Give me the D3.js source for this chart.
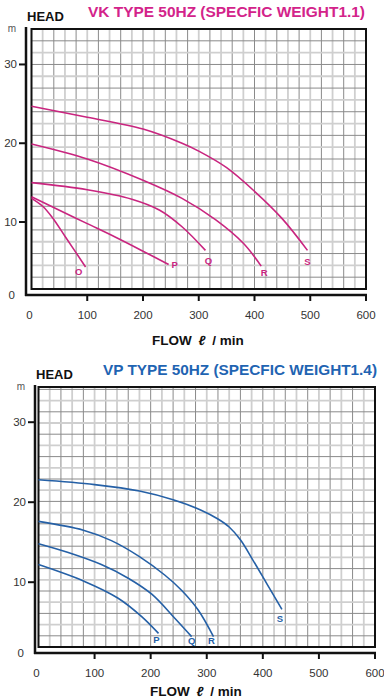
<!DOCTYPE html>
<html>
<head>
<meta charset="utf-8">
<script src="https://cdn.jsdelivr.net/npm/d3@7"></script>
<style>
  body { margin: 0; background: #fff; }
  svg { display: block; font-family: "Liberation Sans", Arial, sans-serif; }
</style>
</head>
<body>
<div id="chart"></div>
<script>
// ---- data (flow l/min, head m) ----
var flowTicks = [0, 100, 200, 300, 400, 500, 600];
var headTicks = [10, 20, 30];

var vkO = [[0, 13.0], [20, 12.0], [37, 10.6], [60, 8.2], [97, 4.3]];
var vkP = [[0, 13.2], [50, 11.5], [100, 9.8], [150, 8.1], [200, 6.3], [246, 4.6]];
var vkQ = [[0, 15.0], [100, 14.1], [180, 12.9], [230, 11.5], [270, 9.4], [312, 6.4]];
var vkR = [[0, 19.9], [100, 18.0], [200, 15.3], [270, 13.0], [330, 10.3], [380, 7.3], [412, 4.4]];
var vkS = [[0, 24.7], [100, 23.3], [200, 21.8], [270, 20.0], [300, 19.0], [350, 16.9], [400, 13.9], [450, 10.4], [495, 6.4]];

var vpP = [[0, 12.2], [82, 10.1], [142, 8.0], [184, 5.7], [214, 3.6]];
var vpQ = [[0, 14.8], [53, 13.7], [112, 12.2], [160, 10.5], [202, 8.5], [243, 5.5], [273, 3.2]];
var vpR = [[0, 17.6], [80, 16.5], [130, 15.2], [180, 13.2], [225, 10.9], [255, 9.0], [285, 6.5], [312, 3.2]];
var vpS = [[0, 22.8], [100, 22.2], [180, 21.4], [240, 20.3], [290, 19.0], [320, 17.9], [340, 16.9], [360, 15.3], [382, 12.8], [408, 9.7], [434, 6.6]];

var vkCurves = [
  {name: "O", pts: vkO, dx: -7, dy: 8.5},
  {name: "P", pts: vkP, dx: 6, dy: 3.5},
  {name: "Q", pts: vkQ, dx: 3, dy: 14},
  {name: "R", pts: vkR, dx: 3, dy: 9.5},
  {name: "S", pts: vkS, dx: 0, dy: 14.5}
];
var vpCurves = [
  {name: "P", pts: vpP, dx: -2, dy: 10},
  {name: "Q", pts: vpQ, dx: 0, dy: 7},
  {name: "R", pts: vpR, dx: -2, dy: 7},
  {name: "S", pts: vpS, dx: -2, dy: 13}
];

var svg = d3.select("#chart").append("svg")
  .attr("width", 384)
  .attr("height", 699);

function drawChart(opt) {
  var g = svg.append("g");

  var x = d3.scaleLinear().domain([0, 600]).range([opt.left, opt.right]);
  var y = d3.scaleLinear().domain(opt.yDomain).range([opt.bottom, opt.top]);

  // grid (alternating dark / light lines)
  var vx = d3.range(20, 600, 20);
  g.selectAll(".vg").data(vx).enter().append("line")
    .attr("x1", function(d) { return x(d); })
    .attr("x2", function(d) { return x(d); })
    .attr("y1", opt.top).attr("y2", opt.bottom)
    .attr("stroke", function(d, i) { return i % 2 ? "#8a8a8a" : "#cfcfcf"; })
    .attr("stroke-width", function(d, i) { return i % 2 ? 1 : 1.8; });

  var hy = d3.range(opt.yDomain[0] + opt.gridStep, opt.yDomain[1] - 0.01, opt.gridStep);
  g.selectAll(".hg").data(hy).enter().append("line")
    .attr("y1", function(d) { return y(d); })
    .attr("y2", function(d) { return y(d); })
    .attr("x1", opt.left).attr("x2", opt.right)
    .attr("stroke", function(d, i) { return i % 2 ? "#cfcfcf" : "#8a8a8a"; })
    .attr("stroke-width", function(d, i) { return i % 2 ? 1.8 : 1; });

  // frame
  g.append("rect")
    .attr("x", opt.left).attr("y", opt.top)
    .attr("width", opt.right - opt.left)
    .attr("height", opt.bottom - opt.top)
    .attr("fill", "none")
    .attr("stroke", "#111")
    .attr("stroke-width", 2);

  // axis lines
  g.append("line")
    .attr("x1", opt.axisX).attr("x2", opt.axisX)
    .attr("y1", opt.top - 2).attr("y2", opt.axisY + 1)
    .attr("stroke", "#111").attr("stroke-width", 2.5);
  g.append("line")
    .attr("x1", opt.axisX - 1).attr("x2", opt.right + 1)
    .attr("y1", opt.axisY).attr("y2", opt.axisY)
    .attr("stroke", "#111").attr("stroke-width", 2.5);

  // x ticks
  g.selectAll(".xt").data(flowTicks.slice(1)).enter().append("line")
    .attr("x1", function(d) { return x(d); })
    .attr("x2", function(d) { return x(d); })
    .attr("y1", opt.axisY).attr("y2", opt.axisY + 6)
    .attr("stroke", "#111").attr("stroke-width", 2);
  g.selectAll(".xl").data(flowTicks).enter().append("text")
    .attr("x", function(d) { return x(d) - (d === 0 ? 2 : 0); })
    .attr("y", opt.axisY + 24)
    .attr("text-anchor", "middle")
    .attr("font-size", 11.5)
    .attr("fill", "#333")
    .text(function(d) { return d; });

  // y ticks
  g.selectAll(".yt").data(headTicks).enter().append("line")
    .attr("x1", opt.axisX - 7).attr("x2", opt.axisX)
    .attr("y1", function(d) { return y(d); })
    .attr("y2", function(d) { return y(d); })
    .attr("stroke", "#111").attr("stroke-width", 2);
  g.selectAll(".yl").data(headTicks).enter().append("text")
    .attr("x", opt.axisX - 9)
    .attr("y", function(d) { return y(d) + 4; })
    .attr("text-anchor", "end")
    .attr("font-size", 11.5)
    .attr("fill", "#333")
    .text(function(d) { return d; });
  g.append("text")
    .attr("x", opt.axisX - 11).attr("y", opt.axisY + 4)
    .attr("text-anchor", "end")
    .attr("font-size", 11.5)
    .attr("fill", "#333")
    .text("0");

  // curves
  var line = d3.line()
    .x(function(d) { return x(d[0]); })
    .y(function(d) { return y(d[1]); })
    .curve(d3.curveCatmullRom.alpha(0.5));

  g.selectAll(".curve").data(opt.curves).enter().append("path")
    .attr("d", function(d) { return line(d.pts); })
    .attr("fill", "none")
    .attr("stroke", opt.color)
    .attr("stroke-width", 1.6);

  g.selectAll(".cl").data(opt.curves).enter().append("text")
    .attr("x", function(d) { var p = d.pts[d.pts.length - 1]; return x(p[0]) + d.dx; })
    .attr("y", function(d) { var p = d.pts[d.pts.length - 1]; return y(p[1]) + d.dy; })
    .attr("text-anchor", "middle")
    .attr("font-size", 9.5)
    .attr("font-weight", "bold")
    .attr("fill", opt.color)
    .text(function(d) { return d.name; });

  // texts
  g.append("text")
    .attr("x", opt.axisX + 1).attr("y", opt.top - 8)
    .attr("font-size", 13).attr("font-weight", "bold").attr("fill", "#111")
    .text("HEAD");
  g.append("text")
    .attr("x", opt.titleX).attr("y", opt.top - 12)
    .attr("font-size", 14).attr("font-weight", "bold").attr("fill", opt.titleColor)
    .attr("textLength", opt.titleW).attr("lengthAdjust", "spacingAndGlyphs")
    .text(opt.title);
  g.append("text")
    .attr("x", opt.axisX - 14).attr("y", opt.top + 3)
    .attr("text-anchor", "middle")
    .attr("font-size", 10).attr("fill", "#555")
    .text("m");
  var fl = g.append("text")
    .attr("x", opt.flowX).attr("y", opt.axisY + opt.flowDy)
    .attr("font-size", 13.5).attr("font-weight", "bold").attr("fill", "#111");
  fl.append("tspan").text("FLOW ");
  fl.append("tspan").attr("font-style", "italic").attr("dx", 3).text("\u2113");
  fl.append("tspan").attr("dx", 3).text(" / min");
}

drawChart({
  left: 31.5, right: 366, top: 29, bottom: 289,
  axisX: 26, axisY: 295,
  yDomain: [1.5, 34.5], gridStep: 1.5,
  curves: vkCurves,
  color: "#c9257f",
  title: "VK TYPE 50HZ (SPECFIC WEIGHT1.1)",
  titleColor: "#d3238a", titleX: 88, titleW: 277,
  flowX: 152, flowDy: 50
});

drawChart({
  left: 38.5, right: 375, top: 387, bottom: 647,
  axisX: 35, axisY: 653,
  yDomain: [1.9, 34.4], gridStep: 1.4,
  curves: vpCurves,
  color: "#2560a6",
  title: "VP TYPE 50HZ (SPECFIC WEIGHT1.4)",
  titleColor: "#1f64b2", titleX: 103, titleW: 274,
  flowX: 150, flowDy: 43
});
</script>
</body>
</html>
